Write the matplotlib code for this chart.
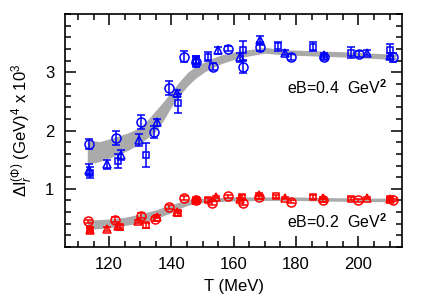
import matplotlib
matplotlib.use("Agg")
import matplotlib.pyplot as plt
from matplotlib.ticker import MultipleLocator, FixedLocator

plt.rcParams['font.family'] = ['Liberation Sans', 'DejaVu Sans']
plt.rcParams['mathtext.fontset'] = 'custom'
plt.rcParams['mathtext.rm'] = 'Liberation Sans'
plt.rcParams['mathtext.it'] = 'Liberation Sans:italic'
plt.rcParams['mathtext.bf'] = 'Liberation Sans:bold'

# ---------------- data ----------------
# eB = 0.4 GeV^2 (blue)
b_circ_T = [113.4, 122.1, 130.3, 134.5, 139.3, 143.9, 148.0, 153.4, 158.2, 163.0, 168.3, 178.3, 188.8, 200.3, 211.2]
b_circ_v = [1.77, 1.87, 2.14, 1.98, 2.74, 3.27, 3.18, 3.10, 3.41, 3.09, 3.44, 3.26, 3.26, 3.32, 3.26]
b_circ_e = [0.08, 0.12, 0.12, 0.10, 0.12, 0.10, 0.08, 0.06, 0.05, 0.10, 0.08, 0.05, 0.04, 0.05, 0.08]

b_tri_T = [113.7, 119.3, 123.7, 129.5, 135.3, 141.8, 148.0, 155.0, 162.0, 168.3, 176.3, 188.8, 202.7, 210.0]
b_tri_v = [1.33, 1.42, 1.58, 1.84, 2.14, 2.64, 3.22, 3.38, 3.26, 3.55, 3.34, 3.30, 3.34, 3.28]
b_tri_e = [0.10, 0.08, 0.08, 0.10, 0.06, 0.06, 0.06, 0.06, 0.08, 0.08, 0.04, 0.04, 0.04, 0.05]

b_sq_T = [114.0, 123.0, 132.0, 142.0, 148.0, 151.8, 163.0, 174.2, 185.4, 197.7, 210.0]
b_sq_v = [1.28, 1.47, 1.58, 2.47, 3.20, 3.27, 3.38, 3.45, 3.44, 3.34, 3.38]
b_sq_e = [0.10, 0.12, 0.21, 0.16, 0.08, 0.08, 0.16, 0.08, 0.08, 0.10, 0.10]

b_band_T  = [113.0, 117.0, 122.7, 126.0, 129.4, 132.0, 134.7, 137.5, 140.0, 142.7, 145.4, 148.0,
             150.7, 153.5, 156.0, 160.0, 163.5, 170.0, 176.0, 187.0, 197.0, 212.0]
b_band_lo = [1.42, 1.47, 1.58, 1.66, 1.76, 1.86, 1.98, 2.18, 2.41, 2.61, 2.78, 2.91,
             3.01, 3.09, 3.15, 3.22, 3.27, 3.33, 3.30, 3.28, 3.26, 3.22]
b_band_hi = [1.84, 1.81, 1.90, 1.96, 2.04, 2.16, 2.33, 2.50, 2.67, 2.85, 3.01, 3.11,
             3.18, 3.25, 3.30, 3.35, 3.38, 3.43, 3.39, 3.37, 3.35, 3.31]

# eB = 0.2 GeV^2 (red)
r_circ_T = [113.2, 122.0, 130.4, 134.7, 139.3, 144.0, 148.0, 153.0, 158.2, 163.0, 168.0, 178.3, 188.6, 200.0, 211.0]
r_circ_v = [0.44, 0.47, 0.54, 0.48, 0.69, 0.84, 0.81, 0.76, 0.87, 0.76, 0.86, 0.78, 0.80, 0.80, 0.81]
r_circ_e = [0.03, 0.04, 0.04, 0.04, 0.04, 0.04, 0.03, 0.03, 0.03, 0.04, 0.03, 0.03, 0.02, 0.02, 0.02]

r_tri_T = [113.9, 119.3, 123.0, 129.4, 135.3, 141.7, 148.0, 154.4, 162.0, 168.0, 176.3, 188.6, 202.7, 210.0]
r_tri_v = [0.30, 0.31, 0.36, 0.44, 0.52, 0.61, 0.81, 0.86, 0.82, 0.90, 0.84, 0.84, 0.84, 0.82]
r_tri_e = [0.03, 0.03, 0.03, 0.03, 0.03, 0.03, 0.02, 0.02, 0.03, 0.03, 0.02, 0.02, 0.02, 0.02]

r_sq_T = [114.0, 123.5, 132.0, 142.0, 148.0, 151.8, 162.5, 173.7, 185.4, 197.7, 210.0]
r_sq_v = [0.30, 0.34, 0.37, 0.58, 0.81, 0.81, 0.86, 0.87, 0.86, 0.83, 0.83]
r_sq_e = [0.04, 0.04, 0.05, 0.04, 0.03, 0.03, 0.04, 0.03, 0.03, 0.03, 0.03]

r_band_T  = [113.0, 120.0, 125.0, 129.4, 135.0, 140.0, 143.0, 145.4, 150.7, 155.0, 160.0, 170.0, 180.0, 190.0, 200.0, 212.0]
r_band_lo = [0.30, 0.33, 0.37, 0.41, 0.49, 0.59, 0.67, 0.72, 0.77, 0.78, 0.79, 0.80, 0.80, 0.79, 0.78, 0.78]
r_band_hi = [0.46, 0.48, 0.51, 0.56, 0.64, 0.73, 0.78, 0.81, 0.84, 0.85, 0.86, 0.86, 0.86, 0.85, 0.84, 0.84]

x_ticks = [120, 140, 160, 180, 200]
y_ticks = [1, 2, 3]

# ---------------- plot ----------------
fig = plt.figure(figsize=(4.25, 3.08), dpi=100)
ax = fig.add_axes([0.154, 0.198, 0.792, 0.756])

band_col = '#aaaaaa'
ax.fill_between(b_band_T, b_band_lo, b_band_hi, color=band_col, lw=0, zorder=1)
ax.fill_between(r_band_T, r_band_lo, r_band_hi, color=band_col, lw=0, zorder=1)

def series(T, v, e, color, marker, ms):
    ax.errorbar(T, v, yerr=e, fmt=marker, ms=ms, mfc='none', mec=color,
                mew=1.1, ecolor=color, elinewidth=1.1, capsize=3.2, capthick=1.1,
                zorder=3)

blue = '#0000ff'
red = '#ff0000'
series(b_circ_T, b_circ_v, b_circ_e, blue, 'o', 6.5)
series(b_tri_T, b_tri_v, b_tri_e, blue, '^', 5.5)
series(b_sq_T, b_sq_v, b_sq_e, blue, 's', 5.0)
series(r_circ_T, r_circ_v, r_circ_e, red, 'o', 6.5)
series(r_tri_T, r_tri_v, r_tri_e, red, '^', 5.5)
series(r_sq_T, r_sq_v, r_sq_e, red, 's', 5.0)

ax.set_xlim(106, 214)
ax.set_ylim(0, 4)
ax.xaxis.set_major_locator(FixedLocator(x_ticks))
ax.xaxis.set_minor_locator(MultipleLocator(5))
ax.yaxis.set_major_locator(FixedLocator(y_ticks))
ax.yaxis.set_minor_locator(MultipleLocator(0.2))
ax.tick_params(which='both', direction='in', top=True, right=True, width=1.1, labelsize=12)
ax.tick_params(which='major', length=8)
ax.tick_params(which='minor', length=4)
ax.tick_params(axis='x', pad=7)
ax.tick_params(axis='y', pad=8)
for s in ax.spines.values():
    s.set_linewidth(1.2)

ax.set_xlabel('T (MeV)', fontsize=12, labelpad=5)
ax.set_ylabel(r'$\Delta\mathrm{I}_r^{(\Phi)}$ (GeV)$^4$ x 10$^3$', fontsize=12, labelpad=8)

ax.text(0.955, 0.685, r'eB=0.4  GeV$^\mathbf{2}$', transform=ax.transAxes, ha='right', va='center', fontsize=11.5)
ax.text(0.955, 0.11, r'eB=0.2  GeV$^\mathbf{2}$', transform=ax.transAxes, ha='right', va='center', fontsize=11.5)

fig.savefig('out.png', dpi=100)
